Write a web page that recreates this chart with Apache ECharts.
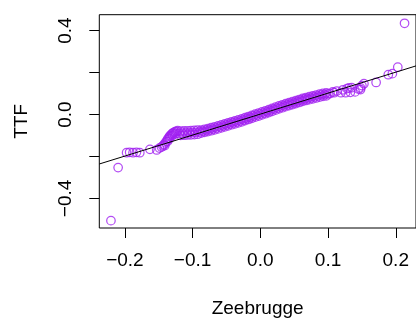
<!DOCTYPE html>
<html>
<head>
<meta charset="utf-8">
<script src="https://cdn.jsdelivr.net/npm/echarts@6/dist/echarts.min.js"></script>
<style>
html,body{margin:0;padding:0;background:#fff;}
#c{width:416px;height:323px;}
</style>
</head>
<body>
<div id="c"></div>
<script>
// ---- data ----
var xTitle = "Zeebrugge";
var yTitle = "TTF";
var xTicks = [-0.2, -0.1, 0.0, 0.1, 0.2];
var yTicks = [-0.4, -0.2, 0.0, 0.2, 0.4];
var yTickLabels = [-0.4, 0.0, 0.4];
var xRange = [-0.2378, 0.2299];
var yRange = [-0.541, 0.476];
var fitIntercept = 0.002;
var fitSlope = 1.0;

var zeebrugge = [
  -0.2206, -0.210, -0.1975, -0.193, -0.188, -0.183, -0.178, -0.163, -0.153, -0.149,
  -0.146, -0.144, -0.142, -0.141, -0.140, -0.139, -0.137, -0.137, -0.136, -0.134, -0.134,
  -0.133, -0.131, -0.130, -0.130, -0.128, -0.127, -0.126, -0.125, -0.124, -0.122,
  -0.120, -0.115, -0.110, -0.105, -0.100, -0.095, -0.090, -0.085, -0.080, -0.075,
  -0.070, -0.065, -0.060, -0.055, -0.050, -0.045, -0.040, -0.035, -0.030, -0.025,
  -0.020, -0.015, -0.010, -0.005, 0.000, 0.005, 0.010, 0.015, 0.020, 0.025,
  0.030, 0.035, 0.040, 0.045, 0.050, 0.055, 0.060, 0.065, 0.070, 0.075,
  0.080, 0.085, 0.090, 0.095, 0.100,
  -0.1175, -0.1125, -0.1075, -0.1025, -0.0975, -0.0925, -0.0875, -0.0825, -0.0775, -0.0725,
  -0.0675, -0.0625, -0.0575, -0.0525, -0.0475, -0.0425, -0.0375, -0.0325, -0.0275, -0.0225,
  -0.0175, -0.0125, -0.0075, -0.0025, 0.0025, 0.0075, 0.0125, 0.0175, 0.0225, 0.0275,
  0.0325, 0.0375, 0.0425, 0.0475, 0.0525, 0.0575, 0.0625, 0.0675, 0.0725, 0.0775,
  0.0825, 0.0875, 0.0925, 0.0975,
  -0.1175, -0.1125, -0.1075, -0.1025, -0.0975, -0.0925, -0.0875, -0.0825, -0.0775, -0.0725,
  -0.0675, -0.0625, -0.0575, -0.0525, -0.0475, -0.0425, -0.0375, -0.0325, -0.0275, -0.0225,
  -0.0175, -0.0125, -0.0075, -0.0025, 0.0025, 0.0075, 0.0125, 0.0175, 0.0225, 0.0275,
  0.0325, 0.0375, 0.0425, 0.0475, 0.0525, 0.0575, 0.0625, 0.0675, 0.0725, 0.0775,
  0.0825, 0.0875, 0.0925, 0.0975,
  0.103, 0.107, 0.109, 0.113, 0.119, 0.122, 0.126, 0.128, 0.133, 0.135,
  0.140, 0.131, 0.145, 0.148, 0.148, 0.150, 0.153, 0.171, 0.189, 0.195,
  0.203, 0.213
];
var ttf = [
  -0.506, -0.253, -0.182, -0.180, -0.182, -0.180, -0.182, -0.166, -0.169, -0.160,
  -0.155, -0.150, -0.142, -0.148, -0.135, -0.128, -0.120, -0.128, -0.113, -0.105, -0.114,
  -0.100, -0.094, -0.090, -0.100, -0.086, -0.094, -0.082, -0.090, -0.080, -0.077,
  -0.090, -0.089, -0.088, -0.087, -0.086, -0.085, -0.083, -0.080, -0.076, -0.072,
  -0.068, -0.064, -0.059, -0.054, -0.049, -0.044, -0.039, -0.035, -0.030, -0.025,
  -0.019, -0.014, -0.008, -0.003, 0.003, 0.008, 0.014, 0.019, 0.025, 0.031,
  0.037, 0.042, 0.047, 0.052, 0.057, 0.062, 0.067, 0.072, 0.076, 0.080,
  0.084, 0.088, 0.092, 0.095, 0.098,
  -0.0795, -0.0785, -0.0775, -0.0765, -0.0755, -0.074, -0.0745, -0.071, -0.067, -0.063,
  -0.059, -0.0545, -0.0495, -0.0445, -0.0395, -0.0345, -0.030, -0.0255, -0.0205, -0.015,
  -0.0095, -0.004, 0.0015, 0.007, 0.0125, 0.018, 0.0235, 0.029, 0.035, 0.041,
  0.0465, 0.0515, 0.0565, 0.0615, 0.0665, 0.0715, 0.0765, 0.081, 0.085, 0.089,
  0.093, 0.097, 0.1005, 0.1035,
  -0.0995, -0.0985, -0.0975, -0.0965, -0.0955, -0.094, -0.0885, -0.085, -0.081, -0.077,
  -0.073, -0.0685, -0.0635, -0.0585, -0.0535, -0.0485, -0.044, -0.0395, -0.0345, -0.029,
  -0.0235, -0.018, -0.0125, -0.007, -0.0015, 0.004, 0.0095, 0.015, 0.021, 0.027,
  0.0325, 0.0375, 0.0425, 0.0475, 0.0525, 0.0575, 0.0625, 0.067, 0.071, 0.075,
  0.079, 0.083, 0.0865, 0.0895,
  0.100, 0.108, 0.104, 0.112, 0.104, 0.118, 0.104, 0.124, 0.106, 0.128,
  0.108, 0.127, 0.122, 0.119, 0.127, 0.138, 0.147, 0.153, 0.190, 0.195,
  0.226, 0.435
];

// ---- build ----
var points = zeebrugge.map(function (x, i) { return [x, ttf[i]]; });
var fitLine = [
  [xRange[0], fitIntercept + fitSlope * xRange[0]],
  [xRange[1], fitIntercept + fitSlope * xRange[1]]
];
function fmt(v) {
  var s = (Math.round(v * 10) / 10).toFixed(1);
  return s.replace('-', '\u2212');
}
var FONT = '"Liberation Sans", Arial, Helvetica, sans-serif';
var FS = 19;

var chart = echarts.init(document.getElementById('c'), null, {renderer: 'canvas'});
chart.setOption({
  animation: false,
  backgroundColor: '#ffffff',
  grid: {
    left: 99.3, top: 14.7, width: 318.3, height: 214.6,
    show: true, borderColor: '#000', borderWidth: 1, backgroundColor: 'transparent',
    containLabel: false
  },
  xAxis: {
    type: 'value', min: xRange[0], max: xRange[1],
    name: xTitle, nameLocation: 'middle', nameGap: 71,
    nameTextStyle: {fontFamily: FONT, fontSize: FS, color: '#000'},
    axisLine: {show: false, onZero: false},
    splitLine: {show: false},
    axisTick: {show: true, length: 10, customValues: xTicks, lineStyle: {color: '#000', width: 1}},
    axisLabel: {show: true, customValues: xTicks, formatter: fmt, margin: 23,
      fontFamily: FONT, fontSize: FS, color: '#000'}
  },
  yAxis: {
    type: 'value', min: yRange[0], max: yRange[1],
    name: yTitle, nameLocation: 'middle', nameGap: 68,
    nameTextStyle: {fontFamily: FONT, fontSize: FS, color: '#000'},
    axisLine: {show: false, onZero: false},
    splitLine: {show: false},
    axisTick: {show: true, length: 10, customValues: yTicks, lineStyle: {color: '#000', width: 1}},
    axisLabel: {show: true, customValues: yTickLabels, formatter: fmt, rotate: 90, margin: 24,
      fontFamily: FONT, fontSize: FS, color: '#000'}
  },
  series: [
    {
      type: 'scatter', data: points, symbol: 'circle', symbolSize: 8.5,
      itemStyle: {color: 'rgba(0,0,0,0)', borderColor: '#A020F0', borderWidth: 1.25},
      emphasis: {disabled: true}, z: 2
    },
    {
      type: 'line', data: fitLine, symbol: 'none', clip: true,
      lineStyle: {color: '#000', width: 1}, z: 3, silent: true
    }
  ]
});
</script>
</body>
</html>
